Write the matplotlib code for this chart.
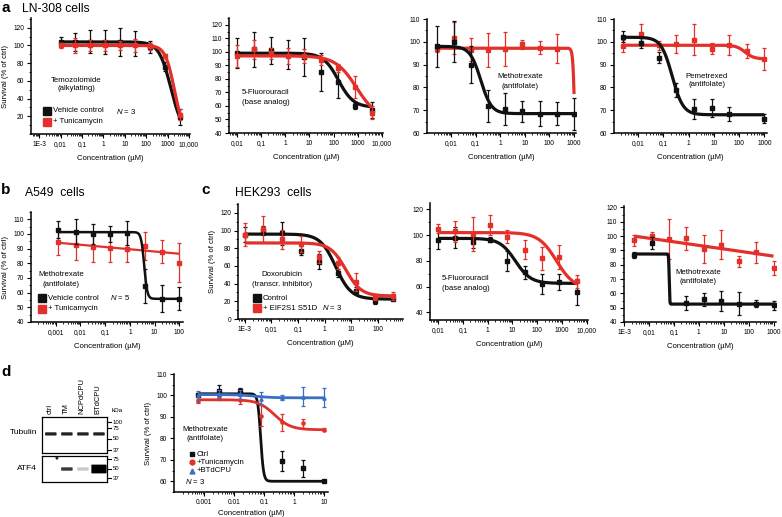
import numpy as np
import matplotlib
matplotlib.use('Agg')
import matplotlib.pyplot as plt
from matplotlib.ticker import FixedLocator, FixedFormatter, LogLocator, NullFormatter, MultipleLocator
from matplotlib.patches import FancyBboxPatch, Ellipse

plt.rcParams['font.family'] = ['Liberation Sans', 'DejaVu Sans']
plt.rcParams['mathtext.fontset'] = 'custom'
plt.rcParams['mathtext.it'] = 'Liberation Sans:italic'
plt.rcParams['mathtext.rm'] = 'Liberation Sans'

W, H = 782, 517
BLACK = '#111111'
RED = '#e3302a'
BLUE = '#3b6fc4'

# ---------------- concentrations (uM) ----------------
conc_hi = [0.01, 0.05, 0.25, 1.25, 6.25, 31.25, 156.25, 781.25, 3906.25]
conc_lo = [0.00256, 0.0128, 0.064, 0.32, 1.6, 8, 40, 200, 1000]
conc_b = [0.00128, 0.0064, 0.032, 0.16, 0.8, 4, 20, 100]
conc_c1 = [0.001, 0.005, 0.025, 0.125, 0.625, 3.125, 15.625, 78.125, 390.625]
conc_d = [0.00064, 0.0032, 0.016, 0.08, 0.4, 2, 10]

# ---------------- a: LN-308 ----------------
tmz_ctrl = [104, 104, 104, 104, 104, 102, 98, 76, 19]
tmz_ctrl_err = [6, 10, 13, 14, 16, 14, 7, 5, 9]
tmz_tm = [100, 100, 100, 100, 100, 100, 99, 88, 22]
tmz_tm_err = [3, 8, 6, 6, 5, 7, 4, 2, 6]
tmz_ctrl_fit = [104, 0, 1425, 1.56]
tmz_tm_fit = [100, 0, 2085, 2.03]

fu_ctrl = [99, 102, 101, 98, 96, 85, 78, 60, 57]
fu_ctrl_err = [11, 13, 10, 11, 14, 14, 12, 2, 6]
fu_tm = [97, 102, 99, 97, 97, 94, 88, 74, 55]
fu_tm_err = [8, 7, 4, 6, 5, 4, 3, 8, 5]
fu_ctrl_fit = [99, 59, 160, 1.4]
fu_tm_fit = [97, 50, 900, 1.0]

mtx_ctrl = [98, 100, 90, 72, 70.5, 69.5, 68.5, 68.5, 68.5]
mtx_ctrl_err = [9, 9, 8, 7, 7, 4.5, 5.5, 5, 7]
mtx_tm = [97, 101.5, 96.5, 96.5, 97, 99, 97.5, 97, np.nan]
mtx_tm_err = [1.5, 7, 5, 7.5, 7.5, 2, 3, 6.5, np.nan]
mtx_ctrl_fit = [98, 68.5, 0.16, 2.0]
mtx_tm_fit = [97.2, 0, 1130, 11]

pem_ctrl = [102.3, 99.5, 93, 79, 70.5, 71, 68.3, np.nan, 66.3]
pem_ctrl_err = [2.5, 2, 2.5, 3, 4.5, 4, 3, np.nan, 2]
pem_tm = [98.2, 103.5, 98.5, 99, 101, 97, 98.5, 96, 92.5]
pem_tm_err = [2.7, 4.5, 2, 4, 7, 2.5, 4.5, 3, 5]
pem_ctrl_fit = [102, 68, 0.22, 2.0]
pem_tm_fit = [98.5, 92.5, 170, 2.5]

# ---------------- b: A549 ----------------
b_ctrl = [103, 101.4, 100, 100, 100.7, 64.3, 56, 56]
b_ctrl_err = [6, 8.5, 7, 5.5, 8, 11.5, 9.5, 8]
b_tm = [94.5, 92.3, 91, 90.5, 90, 91.6, 88, 80.5]
b_tm_err = [9, 10, 10, 9.5, 9, 9.5, 8, 13.5]
b_ctrl_fit = [101.3, 55.8, 3.8, 7]
b_tm_line = [89.6, -1.53]   # value at 1 uM, change per decade

# ---------------- c: HEK293 ----------------
dox_ctrl = [95.5, 100, 97, 77, 65, 52, 32, 20, 23]
dox_ctrl_err = [8.5, 5, 13, 5, 9, 5, 4, 3, 2]
dox_eif = [95, 102, 90, 85, 70, 63, 42, 25, 26]
dox_eif_err = [13, 15, 11, 9, 7, 7, 10, 3, 4]
dox_ctrl_fit = [96, 22.5, 2.6, 1.5]
dox_eif_fit = [86, 26, 6.2, 1.5]

fu2_ctrl = [96.5, 98, 95, 96.5, 80, 71, 62, 63.5, 56]
fu2_ctrl_err = [7, 8, 5, 2, 8, 5, 8, 6, 10]
fu2_eif = [105, 103, 101, 108, 98.7, 88.8, 82, 83, 64]
fu2_eif_err = [3.5, 8, 13, 8, 5, 7.5, 9, 9, 5]
fu2_ctrl_fit = [97.5, 62.5, 13, 1.4]
fu2_eif_fit = [102, 58, 600, 1.2]

mtx2_ctrl = [87, 95.2, np.nan, 53.4, 56, 54.4, 52.8, 52.8, 51.6]
mtx2_ctrl_err = [2, 4, np.nan, 5, 4.5, 7, 8, 2.5, 3]
mtx2_eif = [97, 100, 98, 98.4, 91, 94, 82.4, 88.7, 77.5]
mtx2_eif_err = [4, 3, 14, 8, 10, 10, 4, 7.5, 5]
mtx2_ctrl_fit = [87.5, 52.5, 0.065, 40]
mtx2_eif_line = [93.5, -2.5]

# ---------------- d ----------------
d_ctrl = [100.2, 102.2, 102.2, np.nan, 69.5, 66, 60.3]
d_ctrl_err = [1, 2.6, 1.5, np.nan, 4.6, 4, 0.5]
d_tm = [97.5, 98.9, 97.8, 90.6, 87.5, 87, 84]
d_tm_err = [1, 1, 2, 5, 4, 2, 0.8]
d_bt = [100, 100.5, 100.5, 98.4, 99, 99.5, 99]
d_bt_err = [2, 2, 2, 3, 1, 4.5, 4.5]
d_ctrl_fit = [100.8, 60, 0.076, 9]
d_tm_fit = [98, 84, 0.22, 1.6]
d_bt_fit = [100.4, 98.9, 0.05, 1.5]

# western blot
lanes = ['ctrl', 'TM', 'NCPdCPU', 'BTdCPU']
tubulin_int = [0.85, 0.85, 0.85, 0.85]
atf4_int = [0.0, 0.75, 0.12, 1.0]
tub_markers = ['100', '75', '50', '37']
atf4_markers = ['75', '50', '37']

# ---------------- helpers ----------------
fig = plt.figure(figsize=(W / 100, H / 100), dpi=100)


def px_axes(x0, y0, x1, y1):
    return fig.add_axes([x0 / W, 1 - y1 / H, (x1 - x0) / W, (y1 - y0) / H])


def ftext(x, y, s, **kw):
    kw.setdefault('fontsize', 5.6)
    kw.setdefault('va', 'center')
    fig.text(x / W, 1 - y / H, s, **kw)


def logistic(p, x):
    top, bot, ic, h = p
    return bot + (top - bot) / (1 + (x / ic) ** h)


def loglinear(p, x):
    return p[0] + p[1] * np.log10(x)


def style(ax, xlim, ylim, xticks, xlabels, yticks, yminor, ylabel=True, xpad=5):
    ax.set_xscale('log')
    ax.set_xlim(xlim)
    ax.set_ylim(ylim)
    for s in ['top', 'right']:
        ax.spines[s].set_visible(False)
    for s in ['left', 'bottom']:
        ax.spines[s].set_linewidth(1.1)
    ax.xaxis.set_major_locator(FixedLocator(xticks))
    ax.xaxis.set_major_formatter(FixedFormatter(xlabels))
    ax.xaxis.set_minor_locator(LogLocator(base=10, subs=np.arange(2, 10), numticks=30))
    ax.xaxis.set_minor_formatter(NullFormatter())
    ax.set_yticks(yticks)
    ax.yaxis.set_minor_locator(MultipleLocator(yminor))
    ax.tick_params(which='major', length=3, width=0.8, labelsize=4.8, pad=2)
    ax.tick_params(which='minor', length=1.6, width=0.6)
    ax.set_xlabel('Concentration (µM)', fontsize=5.6, labelpad=xpad)
    if ylabel:
        ax.set_ylabel('Survival (% of ctrl)', fontsize=5.6, labelpad=3)
    ax.patch.set_alpha(0)


def series(ax, x, y, e, color, fit, kind='log', marker='s', ms=2.3, lw=2.3, z=2):
    x = np.asarray(x, float)
    ax.errorbar(x, y, yerr=e, fmt=marker, color=color, ms=ms, capsize=1.7,
                elinewidth=0.9, capthick=0.9, zorder=z)
    xs = np.logspace(np.log10(x[0]), np.log10(x[-1]), 1500)
    ys = logistic(fit, xs) if kind == 'log' else loglinear(fit, xs)
    ax.plot(xs, ys, color=color, lw=lw, zorder=z + 0.5, solid_capstyle='butt')


dec_all = [1e-3, 1e-2, 1e-1, 1, 10, 100, 1000, 10000]
lab_all = ['1E-3', '0,01', '0,1', '1', '10', '100', '1000', '10,000']

# ---------------- panel a ----------------
ax = px_axes(31, 18, 190, 134)
style(ax, (10 ** -3.38, 10 ** 4.05), (0, 131), dec_all, lab_all, range(20, 121, 20), 10)
series(ax, conc_hi, tmz_ctrl, tmz_ctrl_err, BLACK, tmz_ctrl_fit)
series(ax, conc_hi, tmz_tm, tmz_tm_err, RED, tmz_tm_fit, z=3)

ax = px_axes(229, 18, 383, 133)
style(ax, (10 ** -2.33, 10 ** 4.05), (40, 125), dec_all[1:], lab_all[1:], range(40, 121, 10), 5, ylabel=False)
series(ax, conc_hi, fu_ctrl, fu_ctrl_err, BLACK, fu_ctrl_fit)
series(ax, conc_hi, fu_tm, fu_tm_err, RED, fu_tm_fit, z=3)

ax = px_axes(427, 19, 576, 133)
style(ax, (10 ** -2.98, 10 ** 3.08), (60, 110), dec_all[1:7], lab_all[1:7], range(60, 111, 10), 5, ylabel=False)
series(ax, conc_lo, mtx_tm, mtx_tm_err, RED, mtx_tm_fit)
series(ax, conc_lo, mtx_ctrl, mtx_ctrl_err, BLACK, mtx_ctrl_fit, z=3)

ax = px_axes(614, 19, 767, 133)
style(ax, (10 ** -2.96, 10 ** 3.1), (60, 110), dec_all[1:7], lab_all[1:7], range(60, 111, 10), 5, ylabel=False)
series(ax, conc_lo, pem_tm, pem_tm_err, RED, pem_tm_fit)
series(ax, conc_lo, pem_ctrl, pem_ctrl_err, BLACK, pem_ctrl_fit, z=3)

# ---------------- panel b ----------------
ax = px_axes(31, 212, 183, 322)
style(ax, (1e-4, 10 ** 2.15), (40, 115), [1e-3, 1e-2, 1e-1, 1, 10, 100],
      ['0,001', '0,01', '0,1', '1', '10', '100'], range(40, 111, 10), 5)
series(ax, conc_b, b_tm, b_tm_err, RED, b_tm_line, kind='lin', lw=1.6)
series(ax, conc_b, b_ctrl, b_ctrl_err, BLACK, b_ctrl_fit, lw=1.8, z=3)

# ---------------- panel c ----------------
ax = px_axes(238, 204, 403, 319)
style(ax, (10 ** -3.26, 10 ** 2.95), (0, 130), dec_all[:7], lab_all[:7], range(0, 121, 20), 10)
series(ax, conc_c1, dox_ctrl, dox_ctrl_err, BLACK, dox_ctrl_fit)
series(ax, conc_c1, dox_eif, dox_eif_err, RED, dox_eif_fit, z=3)

ax = px_axes(430, 203, 588, 320)
style(ax, (10 ** -2.33, 10 ** 4.05), (34, 125), dec_all[1:], lab_all[1:], range(40, 121, 20), 10, ylabel=False)
series(ax, conc_hi, fu2_ctrl, fu2_ctrl_err, BLACK, fu2_ctrl_fit)
series(ax, conc_hi, fu2_eif, fu2_eif_err, RED, fu2_eif_fit, z=3)

ax = px_axes(624, 206, 776, 322)
style(ax, (1e-3, 10 ** 3.1), (40, 121), dec_all[:7], lab_all[:7], range(40, 121, 10), 5, ylabel=False)
series(ax, conc_lo, mtx2_eif, mtx2_eif_err, RED, mtx2_eif_line, kind='lin')
series(ax, conc_lo, mtx2_ctrl, mtx2_ctrl_err, BLACK, mtx2_ctrl_fit, z=3)

# ---------------- panel d chart ----------------
ax = px_axes(174, 374, 328, 492)
style(ax, (1e-4, 10 ** 1.12), (55, 110), [1e-3, 1e-2, 1e-1, 1, 10],
      ['0.001', '0.01', '0.1', '1', '10'], range(60, 111, 10), 5, xpad=3)
series(ax, conc_d, d_ctrl, d_ctrl_err, BLACK, d_ctrl_fit, lw=2.0)
series(ax, conc_d, d_tm, d_tm_err, RED, d_tm_fit, marker='o', lw=2.0, z=3)
series(ax, conc_d, d_bt, d_bt_err, BLUE, d_bt_fit, marker='^', lw=2.0, z=4)

# ---------------- western blot ----------------
for (y0, y1, ints, band_h, markers, mpos) in [
        (417, 453, tubulin_int, 0.09, tub_markers, [0.85, 0.69, 0.39, 0.08]),
        (456, 482, atf4_int, 0.13, atf4_markers, [0.88, 0.5, 0.15])]:
    bx = px_axes(42, y0, 107, y1)
    bx.set_xlim(-0.55, 3.5)
    bx.set_ylim(0, 1)
    bx.set_xticks([])
    bx.set_yticks([])
    for s in bx.spines.values():
        s.set_linewidth(0.9)
    by = 0.53 if y0 < 450 else 0.5
    for i, v in enumerate(ints):
        if v <= 0:
            continue
        big = v > 0.95 and y0 > 450
        hh = band_h * (2.6 if big else 1)
        ww = 0.95 if big else 0.72
        g = 1 - v
        bx.add_patch(FancyBboxPatch((i - ww / 2, by - hh / 2), ww, hh,
                                    boxstyle='round,pad=0,rounding_size=0.04',
                                    fc=(g * 0.9, g * 0.9, g * 0.9), ec='none'))
    for lab, yy in zip(markers, mpos):
        bx.plot([1.0, 1.06], [yy, yy], color='k', lw=0.8, transform=bx.transAxes, clip_on=False)
        bx.text(1.09, yy, lab, fontsize=4.3, va='center', ha='left', transform=bx.transAxes)
    if y0 > 450:
        bx.add_patch(Ellipse((0.38, 0.92), 0.18, 0.12, fc='#222222', ec='none'))
ftext(112, 411, 'kDa', fontsize=4.6, ha='left')
for i, lab in enumerate(lanes):
    ftext(50 + 16 * i, 414, lab, rotation=90, ha='center', va='bottom', fontsize=5.4)
ftext(37, 433, 'Tubulin', ha='right', fontsize=6)
ftext(37, 468, 'ATF4', ha='right', fontsize=6)

# ---------------- titles & annotations ----------------
ftext(2, 8, 'a', fontsize=11, fontweight='bold')
ftext(22, 9, 'LN-308 cells', fontsize=8.7)
ftext(1, 190, 'b', fontsize=11, fontweight='bold')
ftext(25, 193, 'A549  cells', fontsize=8.7)
ftext(201, 190, 'c', fontsize=11, fontweight='bold')
ftext(235, 193, 'HEK293  cells', fontsize=8.7)
ftext(1, 372, 'd', fontsize=11, fontweight='bold')

ftext(76, 84.5, 'Temozolomide\n(alkylating)', ha='center', linespacing=1.4)
ftext(242, 97.5, '5-Fluorouracil\n(base analog)', ha='left', linespacing=1.4)
ftext(520, 81.5, 'Methotrexate\n(antifolate)', ha='center', linespacing=1.4)
ftext(707, 80.5, 'Pemetrexed\n(antifolate)', ha='center', linespacing=1.4)
ftext(61, 279.5, 'Methotrexate\n(antifolate)', ha='center', linespacing=1.4)
ftext(282, 279.5, 'Doxorubicin\n(transcr. inhibitor)', ha='center', linespacing=1.4)
ftext(442, 283.5, '5-Fluorouracil\n(base analog)', ha='left', linespacing=1.4)
ftext(698, 277, 'Methotrexate\n(antifolate)', ha='center', linespacing=1.4)
ftext(205, 434, 'Methotrexate\n(antifolate)', ha='center', linespacing=1.4)


def legend_item(x, y, color, label, marker='s', ms=6):
    fig.lines.append(plt.Line2D([x / W], [1 - y / H], marker=marker, color=color, ms=ms,
                                transform=fig.transFigure, figure=fig, ls='none'))
    ftext(x + 6 if ms > 4 else x + 5, y, label, ha='left')


legend_item(47, 111, BLACK, 'Vehicle control')
legend_item(47, 122, RED, '+ Tunicamycin')
ftext(116, 111, '$N$ = 3', ha='left')
legend_item(42, 298, BLACK, 'Vehicle control')
legend_item(42, 309, RED, '+ Tunicamycin')
ftext(110, 298, '$N$ = 5', ha='left')
legend_item(257, 298, BLACK, 'Control')
legend_item(257, 308, RED, '+ EIF2S1 S51D')
ftext(322, 307, '$N$ = 3', ha='left')
legend_item(192, 454, BLACK, 'Ctrl', ms=3)
legend_item(192, 462, RED, '+Tunicamycin', marker='o', ms=3.5)
legend_item(192, 471, BLUE, '+BTdCPU', marker='^', ms=3.5)
ftext(185, 482, '$N$ = 3', ha='left')

fig.savefig('out.png', dpi=100)
